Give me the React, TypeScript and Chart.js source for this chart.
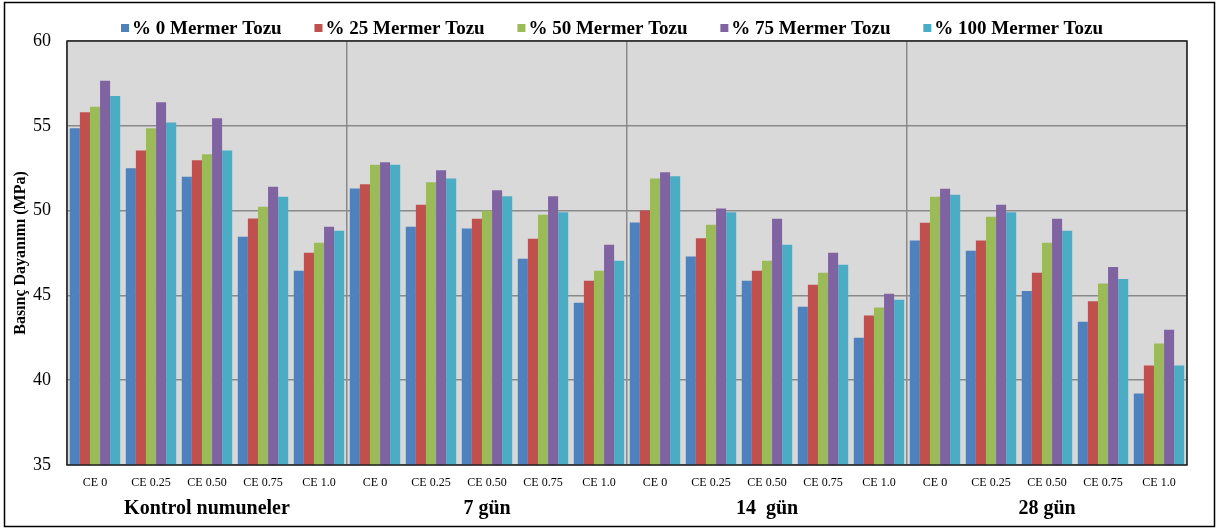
import { useEffect, useRef } from 'react';
import { Chart, registerables } from 'chart.js';

Chart.register(...registerables);

const ceLevels = ['CE 0', 'CE 0.25', 'CE 0.50', 'CE 0.75', 'CE 1.0'];
const groupLabels = ['Kontrol numuneler', '7 gün', '14  gün', '28 gün'];
const categories = [...ceLevels, ...ceLevels, ...ceLevels, ...ceLevels];

const seriesNames = ['% 0 Mermer Tozu', '% 25 Mermer Tozu', '% 50 Mermer Tozu', '% 75 Mermer Tozu', '% 100 Mermer Tozu'];
const seriesColors = ['#4f81bd', '#c0504d', '#9bbb59', '#8064a2', '#4bacc6'];

const s0 = [54.85, 52.49, 52.0, 48.46, 46.46, 51.31, 49.05, 48.95, 47.16, 44.57, 49.3, 47.3, 45.87, 44.33, 42.51, 48.23, 47.64, 45.26, 43.45, 39.22];
const s25 = [55.8, 53.55, 52.97, 49.54, 47.52, 51.55, 50.35, 49.52, 48.34, 45.87, 50.0, 48.37, 46.46, 45.63, 43.82, 49.29, 48.23, 46.34, 44.65, 40.86];
const s50 = [56.13, 54.85, 53.32, 50.23, 48.11, 52.71, 51.67, 50.0, 49.76, 46.46, 51.9, 49.17, 47.05, 46.34, 44.28, 50.82, 49.64, 48.11, 45.7, 42.16];
const s75 = [57.66, 56.39, 55.44, 51.41, 49.05, 52.85, 52.38, 51.2, 50.84, 47.99, 52.26, 50.13, 49.52, 47.52, 45.1, 51.29, 50.35, 49.52, 46.67, 42.98];
const s100 = [56.76, 55.2, 53.55, 50.82, 48.81, 52.71, 51.9, 50.84, 49.9, 47.05, 52.02, 49.9, 47.99, 46.81, 44.75, 50.94, 49.9, 48.81, 45.97, 40.86];
const seriesValues = [s0, s25, s50, s75, s100];

const yMin = 35;
const yMax = 60;
const yStep = 5;
const yTitle = 'Basınç Dayanımı (MPa)';

const SERIF = '"Liberation Serif", "Times New Roman", serif';

const framePlugin = {
  id: 'frame',
  beforeDraw(chart: any) {
    const { ctx, chartArea: a } = chart;
    ctx.save();
    ctx.fillStyle = '#ffffff';
    ctx.fillRect(0, 0, chart.width, chart.height);
    ctx.fillStyle = '#d9d9d9';
    ctx.fillRect(a.left, a.top, a.right - a.left, a.bottom - a.top);
    ctx.restore();
  },
  afterDraw(chart: any) {
    const { ctx, chartArea: a } = chart;
    ctx.save();
    ctx.strokeStyle = '#222';
    ctx.lineWidth = 1.5;
    ctx.strokeRect(a.left, a.top, a.right - a.left, a.bottom - a.top);
    ctx.strokeStyle = '#000';
    ctx.lineWidth = 1.5;
    ctx.strokeRect(4.5, 2.5, chart.width - 9, chart.height - 5);

    // legend
    ctx.font = 'bold 19px ' + SERIF;
    ctx.textBaseline = 'middle';
    const box = 8;
    const gapBoxText = 3;
    const startX = 121;
    const endX = 1103;
    const widths = seriesNames.map((n) => ctx.measureText(n).width);
    const used = widths.reduce((s, w) => s + box + gapBoxText + w, 0);
    const gapItems = Math.max(3, (endX - startX - used) / (seriesNames.length - 1));
    const total = used + gapItems * (seriesNames.length - 1);
    let x = (startX + endX) / 2 - total / 2;
    const y = 28;
    seriesNames.forEach((n, i) => {
      ctx.fillStyle = seriesColors[i];
      ctx.fillRect(x, y - box / 2, box, box);
      x += box + gapBoxText;
      ctx.fillStyle = '#000';
      ctx.textAlign = 'left';
      ctx.fillText(n, x, y + 1);
      x += widths[i] + gapItems;
    });
    ctx.restore();
  },
};

export default function App() {
  const ref = useRef<HTMLCanvasElement | null>(null);

  useEffect(() => {
    document.body.style.margin = '0';
    if (!ref.current) return;
    const chart = new Chart(ref.current, {
      type: 'bar',
      data: {
        labels: categories,
        datasets: seriesValues.map((vals, i) => ({
          label: seriesNames[i],
          data: vals,
          backgroundColor: seriesColors[i],
          borderWidth: 0,
          categoryPercentage: 0.9,
          barPercentage: 1.0,
          xAxisID: 'x',
        })),
      },
      options: {
        responsive: false,
        animation: false,
        devicePixelRatio: 1,
        layout: { padding: { left: 0, top: 41, right: 32, bottom: 0 } },
        plugins: {
          legend: { display: false },
          tooltip: { enabled: false },
        },
        scales: {
          x: {
            type: 'category',
            position: 'bottom',
            weight: 0,
            offset: true,
            grid: { display: false, drawTicks: false },
            border: { display: false },
            ticks: {
              color: '#000',
              font: { family: SERIF, size: 12 },
              maxRotation: 0,
              autoSkip: false,
              padding: 11,
            },
            afterFit: (s: any) => {
              s.height = 28;
            },
          },
          x2: {
            type: 'category',
            position: 'bottom',
            weight: 1,
            labels: groupLabels,
            offset: true,
            grid: {
              display: true,
              offset: true,
              color: '#8a8a8a',
              lineWidth: 1.5,
              drawTicks: false,
              drawOnChartArea: true,
            },
            border: { display: false },
            ticks: {
              color: '#000',
              font: { family: SERIF, size: 20, weight: 'bold' },
              maxRotation: 0,
              autoSkip: false,
              padding: 4,
            },
            afterFit: (s: any) => {
              s.height = 36;
            },
          },
          y: {
            min: yMin,
            max: yMax,
            ticks: {
              stepSize: yStep,
              color: '#000',
              font: { family: SERIF, size: 18 },
              padding: 16,
            },
            grid: { color: '#8a8a8a', lineWidth: 1.5, drawTicks: false },
            border: { display: false },
            title: {
              display: true,
              text: yTitle,
              color: '#000',
              font: { family: SERIF, size: 16, weight: 'bold' },
              padding: { top: 11, bottom: 0 },
            },
            afterFit: (s: any) => {
              s.width = 67;
            },
          },
        },
      },
      plugins: [framePlugin],
    } as any);
    return () => chart.destroy();
  }, []);

  return (
    <div style={{ width: 1219, height: 529 }}>
      <canvas ref={ref} width={1219} height={529} style={{ display: 'block' }} />
    </div>
  );
}
